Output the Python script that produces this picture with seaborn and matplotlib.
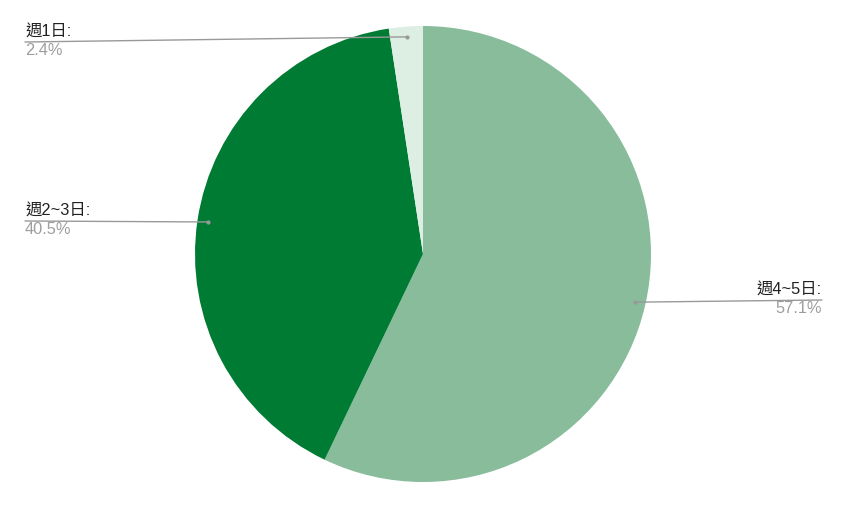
import matplotlib
matplotlib.use("Agg")
import matplotlib.pyplot as plt
import numpy as np
import seaborn as sns

# data (clockwise from 12 o'clock)
labels = ["週4~5日", "週2~3日", "週1日"]
values = [57.1, 40.5, 2.4]
colors = ["#88bc9a", "#007b33", "#dcefe2"]

# label placement in pixels: (text x, line y, align)
label_pos = [(822, 300, "right"), (25, 221, "left"), (25, 42, "left")]

sns.set_theme(style="white")
plt.rcParams["font.family"] = ["Liberation Sans", "Noto Sans CJK TC", "DejaVu Sans"]

W, H = 846, 508
CX, CY, R = 423, 254, 228

fig = plt.figure(figsize=(W / 100, H / 100), dpi=100)
ax = fig.add_axes([0, 0, 1, 1])


def px(x, y):
    return (x - CX) / R, (CY - y) / R


wedges, _ = ax.pie(values, colors=colors, startangle=90, counterclock=False,
                   radius=1.0, wedgeprops=dict(linewidth=0))

for w, lab, val, (tx, ly, ha) in zip(wedges, labels, values, label_pos):
    mid = np.deg2rad((w.theta1 + w.theta2) / 2)
    ax_x, ax_y = 0.955 * np.cos(mid), 0.955 * np.sin(mid)
    lx, lyd = px(tx, ly)
    ax.plot([lx, ax_x], [lyd, ax_y], color="#999999", lw=1, zorder=3)
    ax.plot([ax_x], [ax_y], "o", ms=2, color="#999999", zorder=4)
    ax.text(lx, px(0, ly - 3)[1], lab + ":", ha=ha, va="bottom",
            fontsize=11.8, color="#222222")
    ax.text(lx, px(0, ly + 1)[1], f"{val:.1f}%", ha=ha, va="top",
            fontsize=11.8, color="#9e9e9e")

ax.set_xlim(-CX / R, (W - CX) / R)
ax.set_ylim(-(H - CY) / R, CY / R)
ax.set_aspect("equal")
ax.axis("off")

fig.savefig("out.png", dpi=100)
